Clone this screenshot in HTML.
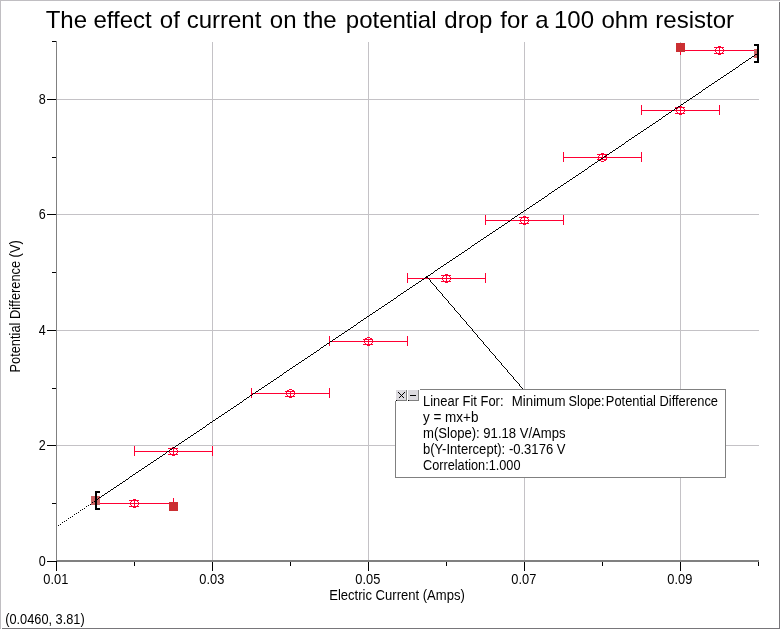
<!DOCTYPE html>
<html lang="en"><head><meta charset="utf-8"><title>The effect of current on the potential drop for a 100 ohm resistor</title>
<style>html,body{margin:0;padding:0;background:#fff;overflow:hidden}svg{display:block;will-change:transform}text{font-family:"Liberation Sans",sans-serif;fill:#000}.s{font-size:13.8px}.t{font-size:24px}</style></head><body>
<svg width="780" height="629" viewBox="0 0 780 629">
<rect x="0" y="0" width="780" height="629" fill="#ffffff"/>
<g shape-rendering="crispEdges">
<rect x="0" y="0" width="780" height="1" fill="#c0bec2"/>
<rect x="0" y="0" width="1" height="629" fill="#c0bec2"/>
<rect x="779" y="2" width="1" height="627" fill="#78767a"/>
<rect x="2" y="628" width="778" height="1" fill="#78767a"/>
<rect x="212" y="42" width="1" height="518" fill="#c4c2c6"/>
<rect x="368" y="42" width="1" height="518" fill="#c4c2c6"/>
<rect x="524" y="42" width="1" height="518" fill="#c4c2c6"/>
<rect x="680" y="42" width="1" height="518" fill="#c4c2c6"/>
<rect x="57" y="445" width="702" height="1" fill="#c4c2c6"/>
<rect x="57" y="330" width="702" height="1" fill="#c4c2c6"/>
<rect x="57" y="214" width="702" height="1" fill="#c4c2c6"/>
<rect x="57" y="99" width="702" height="1" fill="#c4c2c6"/>
<rect x="56" y="41" width="1" height="520" fill="#808080"/>
<rect x="56" y="560" width="703" height="2" fill="#808080"/>
<rect x="47" y="561" width="9" height="1" fill="#000"/>
<rect x="52" y="503" width="4" height="1" fill="#000"/>
<rect x="47" y="445" width="9" height="1" fill="#000"/>
<rect x="52" y="388" width="4" height="1" fill="#000"/>
<rect x="47" y="330" width="9" height="1" fill="#000"/>
<rect x="52" y="272" width="4" height="1" fill="#000"/>
<rect x="47" y="214" width="9" height="1" fill="#000"/>
<rect x="52" y="157" width="4" height="1" fill="#000"/>
<rect x="47" y="99" width="9" height="1" fill="#000"/>
<rect x="52" y="41" width="4" height="1" fill="#000"/>
<rect x="56" y="562" width="1" height="9" fill="#000"/>
<rect x="134" y="562" width="1" height="4" fill="#000"/>
<rect x="212" y="562" width="1" height="9" fill="#000"/>
<rect x="290" y="562" width="1" height="4" fill="#000"/>
<rect x="368" y="562" width="1" height="9" fill="#000"/>
<rect x="446" y="562" width="1" height="4" fill="#000"/>
<rect x="524" y="562" width="1" height="9" fill="#000"/>
<rect x="602" y="562" width="1" height="4" fill="#000"/>
<rect x="680" y="562" width="1" height="9" fill="#000"/>
<rect x="758" y="562" width="1" height="4" fill="#000"/>
<rect x="56" y="561" width="1" height="1" fill="#000"/>
</g>
<text class="t" y="28"><tspan x="45.65">The</tspan> <tspan x="93.45">effect</tspan> <tspan x="159.85">of</tspan> <tspan x="186.65">current</tspan> <tspan x="269.85">on</tspan> <tspan x="303.35">the</tspan> <tspan x="345.80">potential</tspan> <tspan x="444.30">drop</tspan> <tspan x="500.35">for</tspan> <tspan x="535.15">a</tspan> <tspan x="554.00">100</tspan> <tspan x="601.50">ohm</tspan> <tspan x="655.30">resistor</tspan></text>
<text class="s" x="45.7" y="566" text-anchor="end" textLength="7" lengthAdjust="spacingAndGlyphs">0</text>
<text class="s" x="45.7" y="450" text-anchor="end" textLength="7" lengthAdjust="spacingAndGlyphs">2</text>
<text class="s" x="45.7" y="335" text-anchor="end" textLength="7" lengthAdjust="spacingAndGlyphs">4</text>
<text class="s" x="45.7" y="219" text-anchor="end" textLength="7" lengthAdjust="spacingAndGlyphs">6</text>
<text class="s" x="45.7" y="104" text-anchor="end" textLength="7" lengthAdjust="spacingAndGlyphs">8</text>
<text class="s" x="55.8" y="584" text-anchor="middle" textLength="25" lengthAdjust="spacingAndGlyphs">0.01</text>
<text class="s" x="211.8" y="584" text-anchor="middle" textLength="25" lengthAdjust="spacingAndGlyphs">0.03</text>
<text class="s" x="367.8" y="584" text-anchor="middle" textLength="25" lengthAdjust="spacingAndGlyphs">0.05</text>
<text class="s" x="523.8" y="584" text-anchor="middle" textLength="25" lengthAdjust="spacingAndGlyphs">0.07</text>
<text class="s" x="679.8" y="584" text-anchor="middle" textLength="25" lengthAdjust="spacingAndGlyphs">0.09</text>
<text class="s" x="397" y="600" text-anchor="middle" textLength="135.5" lengthAdjust="spacingAndGlyphs">Electric Current (Amps)</text>
<text class="s" transform="translate(19.8,306.4) rotate(-90)" text-anchor="middle" textLength="132.2" lengthAdjust="spacingAndGlyphs">Potential Difference (V)</text>
<text class="s" x="5.2" y="624" textLength="79.5" lengthAdjust="spacingAndGlyphs">(0.0460, 3.81)</text>
<g shape-rendering="crispEdges" fill="#ff0033">
<rect x="95" y="503" width="79" height="1" fill="#ff0033"/>
<rect x="95" y="498" width="1" height="10" fill="#ff0033"/>
<rect x="173" y="498" width="1" height="10" fill="#ff0033"/>
<rect x="134" y="500" width="1" height="7" fill="#ff0033"/>
<rect x="129" y="500" width="10" height="1" fill="#ff0033"/>
<rect x="129" y="506" width="10" height="1" fill="#ff0033"/>
<rect x="134" y="451" width="79" height="1" fill="#ff0033"/>
<rect x="134" y="446" width="1" height="10" fill="#ff0033"/>
<rect x="212" y="446" width="1" height="10" fill="#ff0033"/>
<rect x="173" y="448" width="1" height="7" fill="#ff0033"/>
<rect x="168" y="448" width="10" height="1" fill="#ff0033"/>
<rect x="168" y="454" width="10" height="1" fill="#ff0033"/>
<rect x="251" y="393" width="79" height="1" fill="#ff0033"/>
<rect x="251" y="388" width="1" height="10" fill="#ff0033"/>
<rect x="329" y="388" width="1" height="10" fill="#ff0033"/>
<rect x="290" y="391" width="1" height="6" fill="#ff0033"/>
<rect x="285" y="391" width="10" height="1" fill="#ff0033"/>
<rect x="285" y="396" width="10" height="1" fill="#ff0033"/>
<rect x="329" y="341" width="79" height="1" fill="#ff0033"/>
<rect x="329" y="336" width="1" height="10" fill="#ff0033"/>
<rect x="407" y="336" width="1" height="10" fill="#ff0033"/>
<rect x="368" y="339" width="1" height="6" fill="#ff0033"/>
<rect x="363" y="339" width="10" height="1" fill="#ff0033"/>
<rect x="363" y="344" width="10" height="1" fill="#ff0033"/>
<rect x="407" y="278" width="79" height="1" fill="#ff0033"/>
<rect x="407" y="273" width="1" height="10" fill="#ff0033"/>
<rect x="485" y="273" width="1" height="10" fill="#ff0033"/>
<rect x="446" y="275" width="1" height="7" fill="#ff0033"/>
<rect x="441" y="275" width="10" height="1" fill="#ff0033"/>
<rect x="441" y="281" width="10" height="1" fill="#ff0033"/>
<rect x="485" y="220" width="79" height="1" fill="#ff0033"/>
<rect x="485" y="215" width="1" height="10" fill="#ff0033"/>
<rect x="563" y="215" width="1" height="10" fill="#ff0033"/>
<rect x="524" y="217" width="1" height="7" fill="#ff0033"/>
<rect x="519" y="217" width="10" height="1" fill="#ff0033"/>
<rect x="519" y="223" width="10" height="1" fill="#ff0033"/>
<rect x="563" y="157" width="79" height="1" fill="#ff0033"/>
<rect x="563" y="152" width="1" height="10" fill="#ff0033"/>
<rect x="641" y="152" width="1" height="10" fill="#ff0033"/>
<rect x="602" y="154" width="1" height="6" fill="#ff0033"/>
<rect x="597" y="154" width="10" height="1" fill="#ff0033"/>
<rect x="597" y="159" width="10" height="1" fill="#ff0033"/>
<rect x="641" y="110" width="79" height="1" fill="#ff0033"/>
<rect x="641" y="105" width="1" height="10" fill="#ff0033"/>
<rect x="719" y="105" width="1" height="10" fill="#ff0033"/>
<rect x="680" y="107" width="1" height="7" fill="#ff0033"/>
<rect x="675" y="107" width="10" height="1" fill="#ff0033"/>
<rect x="675" y="113" width="10" height="1" fill="#ff0033"/>
<rect x="680" y="50" width="79" height="1" fill="#ff0033"/>
<rect x="680" y="45" width="1" height="10" fill="#ff0033"/>
<rect x="719" y="47" width="1" height="7" fill="#ff0033"/>
<rect x="714" y="47" width="10" height="1" fill="#ff0033"/>
<rect x="714" y="53" width="10" height="1" fill="#ff0033"/>
</g>
<defs><g id="mk" fill="#ff0033" shape-rendering="crispEdges"><rect x="-1" y="-4" width="3" height="1"/><rect x="-1" y="4" width="3" height="1"/><rect x="-3" y="-3" width="2" height="1"/><rect x="2" y="-3" width="2" height="1"/><rect x="-3" y="3" width="2" height="1"/><rect x="2" y="3" width="2" height="1"/><rect x="-3" y="-2" width="1" height="1"/><rect x="3" y="-2" width="1" height="1"/><rect x="-3" y="2" width="1" height="1"/><rect x="3" y="2" width="1" height="1"/><rect x="-4" y="-1" width="1" height="3"/><rect x="4" y="-1" width="1" height="3"/></g></defs>
<use href="#mk" x="134" y="503"/>
<use href="#mk" x="173" y="451"/>
<use href="#mk" x="290" y="393"/>
<use href="#mk" x="368" y="341"/>
<use href="#mk" x="446" y="278"/>
<use href="#mk" x="524" y="220"/>
<use href="#mk" x="602" y="157"/>
<use href="#mk" x="680" y="110"/>
<use href="#mk" x="719" y="50"/>
<g shape-rendering="crispEdges">
<rect x="91" y="496" width="9" height="9" fill="#cd6464"/>
<rect x="754" y="49" width="5" height="9" fill="#cd6464"/>
<rect x="169" y="502" width="9" height="9" fill="#cb2f32"/>
<rect x="676" y="43" width="9" height="9" fill="#cb2f32"/>
</g>
<g shape-rendering="crispEdges" fill="#000">
<path d="M95 500h1v1h-1zM96 499h2v1h-2zM98 498h1v1h-1zM99 497h2v1h-2zM101 496h1v1h-1zM102 495h2v1h-2zM104 494h1v1h-1zM105 493h2v1h-2zM107 492h1v1h-1zM108 491h2v1h-2zM110 490h1v1h-1zM111 489h2v1h-2zM113 488h1v1h-1zM114 487h2v1h-2zM116 486h1v1h-1zM117 485h2v1h-2zM119 484h1v1h-1zM120 483h2v1h-2zM122 482h1v1h-1zM123 481h2v1h-2zM125 480h1v1h-1zM126 479h2v1h-2zM128 478h1v1h-1zM129 477h1v1h-1zM130 476h2v1h-2zM132 475h1v1h-1zM133 474h2v1h-2zM135 473h1v1h-1zM136 472h2v1h-2zM138 471h1v1h-1zM139 470h2v1h-2zM141 469h1v1h-1zM142 468h2v1h-2zM144 467h1v1h-1zM145 466h2v1h-2zM147 465h1v1h-1zM148 464h2v1h-2zM150 463h1v1h-1zM151 462h2v1h-2zM153 461h1v1h-1zM154 460h2v1h-2zM156 459h1v1h-1zM157 458h2v1h-2zM159 457h1v1h-1zM160 456h2v1h-2zM162 455h1v1h-1zM163 454h2v1h-2zM165 453h1v1h-1zM166 452h1v1h-1zM167 451h2v1h-2zM169 450h1v1h-1zM170 449h2v1h-2zM172 448h1v1h-1zM173 447h2v1h-2zM175 446h1v1h-1zM176 445h2v1h-2zM178 444h1v1h-1zM179 443h2v1h-2zM181 442h1v1h-1zM182 441h2v1h-2zM184 440h1v1h-1zM185 439h2v1h-2zM187 438h1v1h-1zM188 437h2v1h-2zM190 436h1v1h-1zM191 435h2v1h-2zM193 434h1v1h-1zM194 433h2v1h-2zM196 432h1v1h-1zM197 431h2v1h-2zM199 430h1v1h-1zM200 429h2v1h-2zM202 428h1v1h-1zM203 427h2v1h-2zM205 426h1v1h-1zM206 425h1v1h-1zM207 424h2v1h-2zM209 423h1v1h-1zM210 422h2v1h-2zM212 421h1v1h-1zM213 420h2v1h-2zM215 419h1v1h-1zM216 418h2v1h-2zM218 417h1v1h-1zM219 416h2v1h-2zM221 415h1v1h-1zM222 414h2v1h-2zM224 413h1v1h-1zM225 412h2v1h-2zM227 411h1v1h-1zM228 410h2v1h-2zM230 409h1v1h-1zM231 408h2v1h-2zM233 407h1v1h-1zM234 406h2v1h-2zM236 405h1v1h-1zM237 404h2v1h-2zM239 403h1v1h-1zM240 402h2v1h-2zM242 401h1v1h-1zM243 400h1v1h-1zM244 399h2v1h-2zM246 398h1v1h-1zM247 397h2v1h-2zM249 396h1v1h-1zM250 395h2v1h-2zM252 394h1v1h-1zM253 393h2v1h-2zM255 392h1v1h-1zM256 391h2v1h-2zM258 390h1v1h-1zM259 389h2v1h-2zM261 388h1v1h-1zM262 387h2v1h-2zM264 386h1v1h-1zM265 385h2v1h-2zM267 384h1v1h-1zM268 383h2v1h-2zM270 382h1v1h-1zM271 381h2v1h-2zM273 380h1v1h-1zM274 379h2v1h-2zM276 378h1v1h-1zM277 377h2v1h-2zM279 376h1v1h-1zM280 375h2v1h-2zM282 374h1v1h-1zM283 373h1v1h-1zM284 372h2v1h-2zM286 371h1v1h-1zM287 370h2v1h-2zM289 369h1v1h-1zM290 368h2v1h-2zM292 367h1v1h-1zM293 366h2v1h-2zM295 365h1v1h-1zM296 364h2v1h-2zM298 363h1v1h-1zM299 362h2v1h-2zM301 361h1v1h-1zM302 360h2v1h-2zM304 359h1v1h-1zM305 358h2v1h-2zM307 357h1v1h-1zM308 356h2v1h-2zM310 355h1v1h-1zM311 354h2v1h-2zM313 353h1v1h-1zM314 352h2v1h-2zM316 351h1v1h-1zM317 350h2v1h-2zM319 349h1v1h-1zM320 348h1v1h-1zM321 347h2v1h-2zM323 346h1v1h-1zM324 345h2v1h-2zM326 344h1v1h-1zM327 343h2v1h-2zM329 342h1v1h-1zM330 341h2v1h-2zM332 340h1v1h-1zM333 339h2v1h-2zM335 338h1v1h-1zM336 337h2v1h-2zM338 336h1v1h-1zM339 335h2v1h-2zM341 334h1v1h-1zM342 333h2v1h-2zM344 332h1v1h-1zM345 331h2v1h-2zM347 330h1v1h-1zM348 329h2v1h-2zM350 328h1v1h-1zM351 327h2v1h-2zM353 326h1v1h-1zM354 325h2v1h-2zM356 324h1v1h-1zM357 323h1v1h-1zM358 322h2v1h-2zM360 321h1v1h-1zM361 320h2v1h-2zM363 319h1v1h-1zM364 318h2v1h-2zM366 317h1v1h-1zM367 316h2v1h-2zM369 315h1v1h-1zM370 314h2v1h-2zM372 313h1v1h-1zM373 312h2v1h-2zM375 311h1v1h-1zM376 310h2v1h-2zM378 309h1v1h-1zM379 308h2v1h-2zM381 307h1v1h-1zM382 306h2v1h-2zM384 305h1v1h-1zM385 304h2v1h-2zM387 303h1v1h-1zM388 302h2v1h-2zM390 301h1v1h-1zM391 300h2v1h-2zM393 299h1v1h-1zM394 298h2v1h-2zM396 297h1v1h-1zM397 296h1v1h-1zM398 295h2v1h-2zM400 294h1v1h-1zM401 293h2v1h-2zM403 292h1v1h-1zM404 291h2v1h-2zM406 290h1v1h-1zM407 289h2v1h-2zM409 288h1v1h-1zM410 287h2v1h-2zM412 286h1v1h-1zM413 285h2v1h-2zM415 284h1v1h-1zM416 283h2v1h-2zM418 282h1v1h-1zM419 281h2v1h-2zM421 280h1v1h-1zM422 279h2v1h-2zM424 278h1v1h-1zM425 277h2v1h-2zM427 276h1v1h-1zM428 275h2v1h-2zM430 274h1v1h-1zM431 273h2v1h-2zM433 272h1v1h-1zM434 271h1v1h-1zM435 270h2v1h-2zM437 269h1v1h-1zM438 268h2v1h-2zM440 267h1v1h-1zM441 266h2v1h-2zM443 265h1v1h-1zM444 264h2v1h-2zM446 263h1v1h-1zM447 262h2v1h-2zM449 261h1v1h-1zM450 260h2v1h-2zM452 259h1v1h-1zM453 258h2v1h-2zM455 257h1v1h-1zM456 256h2v1h-2zM458 255h1v1h-1zM459 254h2v1h-2zM461 253h1v1h-1zM462 252h2v1h-2zM464 251h1v1h-1zM465 250h2v1h-2zM467 249h1v1h-1zM468 248h2v1h-2zM470 247h1v1h-1zM471 246h1v1h-1zM472 245h2v1h-2zM474 244h1v1h-1zM475 243h2v1h-2zM477 242h1v1h-1zM478 241h2v1h-2zM480 240h1v1h-1zM481 239h2v1h-2zM483 238h1v1h-1zM484 237h2v1h-2zM486 236h1v1h-1zM487 235h2v1h-2zM489 234h1v1h-1zM490 233h2v1h-2zM492 232h1v1h-1zM493 231h2v1h-2zM495 230h1v1h-1zM496 229h2v1h-2zM498 228h1v1h-1zM499 227h2v1h-2zM501 226h1v1h-1zM502 225h2v1h-2zM504 224h1v1h-1zM505 223h2v1h-2zM507 222h1v1h-1zM508 221h2v1h-2zM510 220h1v1h-1zM511 219h1v1h-1zM512 218h2v1h-2zM514 217h1v1h-1zM515 216h2v1h-2zM517 215h1v1h-1zM518 214h2v1h-2zM520 213h1v1h-1zM521 212h2v1h-2zM523 211h1v1h-1zM524 210h2v1h-2zM526 209h1v1h-1zM527 208h2v1h-2zM529 207h1v1h-1zM530 206h2v1h-2zM532 205h1v1h-1zM533 204h2v1h-2zM535 203h1v1h-1zM536 202h2v1h-2zM538 201h1v1h-1zM539 200h2v1h-2zM541 199h1v1h-1zM542 198h2v1h-2zM544 197h1v1h-1zM545 196h2v1h-2zM547 195h1v1h-1zM548 194h1v1h-1zM549 193h2v1h-2zM551 192h1v1h-1zM552 191h2v1h-2zM554 190h1v1h-1zM555 189h2v1h-2zM557 188h1v1h-1zM558 187h2v1h-2zM560 186h1v1h-1zM561 185h2v1h-2zM563 184h1v1h-1zM564 183h2v1h-2zM566 182h1v1h-1zM567 181h2v1h-2zM569 180h1v1h-1zM570 179h2v1h-2zM572 178h1v1h-1zM573 177h2v1h-2zM575 176h1v1h-1zM576 175h2v1h-2zM578 174h1v1h-1zM579 173h2v1h-2zM581 172h1v1h-1zM582 171h2v1h-2zM584 170h1v1h-1zM585 169h2v1h-2zM587 168h1v1h-1zM588 167h1v1h-1zM589 166h2v1h-2zM591 165h1v1h-1zM592 164h2v1h-2zM594 163h1v1h-1zM595 162h2v1h-2zM597 161h1v1h-1zM598 160h2v1h-2zM600 159h1v1h-1zM601 158h2v1h-2zM603 157h1v1h-1zM604 156h2v1h-2zM606 155h1v1h-1zM607 154h2v1h-2zM609 153h1v1h-1zM610 152h2v1h-2zM612 151h1v1h-1zM613 150h2v1h-2zM615 149h1v1h-1zM616 148h2v1h-2zM618 147h1v1h-1zM619 146h2v1h-2zM621 145h1v1h-1zM622 144h2v1h-2zM624 143h1v1h-1zM625 142h1v1h-1zM626 141h2v1h-2zM628 140h1v1h-1zM629 139h2v1h-2zM631 138h1v1h-1zM632 137h2v1h-2zM634 136h1v1h-1zM635 135h2v1h-2zM637 134h1v1h-1zM638 133h2v1h-2zM640 132h1v1h-1zM641 131h2v1h-2zM643 130h1v1h-1zM644 129h2v1h-2zM646 128h1v1h-1zM647 127h2v1h-2zM649 126h1v1h-1zM650 125h2v1h-2zM652 124h1v1h-1zM653 123h2v1h-2zM655 122h1v1h-1zM656 121h2v1h-2zM658 120h1v1h-1zM659 119h2v1h-2zM661 118h1v1h-1zM662 117h1v1h-1zM663 116h2v1h-2zM665 115h1v1h-1zM666 114h2v1h-2zM668 113h1v1h-1zM669 112h2v1h-2zM671 111h1v1h-1zM672 110h2v1h-2zM674 109h1v1h-1zM675 108h2v1h-2zM677 107h1v1h-1zM678 106h2v1h-2zM680 105h1v1h-1zM681 104h2v1h-2zM683 103h1v1h-1zM684 102h2v1h-2zM686 101h1v1h-1zM687 100h2v1h-2zM689 99h1v1h-1zM690 98h2v1h-2zM692 97h1v1h-1zM693 96h2v1h-2zM695 95h1v1h-1zM696 94h2v1h-2zM698 93h1v1h-1zM699 92h2v1h-2zM701 91h1v1h-1zM702 90h1v1h-1zM703 89h2v1h-2zM705 88h1v1h-1zM706 87h2v1h-2zM708 86h1v1h-1zM709 85h2v1h-2zM711 84h1v1h-1zM712 83h2v1h-2zM714 82h1v1h-1zM715 81h2v1h-2zM717 80h1v1h-1zM718 79h2v1h-2zM720 78h1v1h-1zM721 77h2v1h-2zM723 76h1v1h-1zM724 75h2v1h-2zM726 74h1v1h-1zM727 73h2v1h-2zM729 72h1v1h-1zM730 71h2v1h-2zM732 70h1v1h-1zM733 69h2v1h-2zM735 68h1v1h-1zM736 67h2v1h-2zM738 66h1v1h-1zM739 65h1v1h-1zM740 64h2v1h-2zM742 63h1v1h-1zM743 62h2v1h-2zM745 61h1v1h-1zM746 60h2v1h-2zM748 59h1v1h-1zM749 58h2v1h-2zM751 57h1v1h-1zM752 56h2v1h-2zM754 55h1v1h-1zM755 54h2v1h-2zM757 53h1v1h-1z"/>
<path d="M58 525h1v1h-1zM60 524h1v1h-1zM62 522h1v1h-1zM64 521h1v1h-1zM66 520h1v1h-1zM68 518h1v1h-1zM70 517h1v1h-1zM72 516h1v1h-1zM74 514h1v1h-1zM76 513h1v1h-1zM78 512h1v1h-1zM80 510h1v1h-1zM82 509h1v1h-1zM84 508h1v1h-1zM86 506h1v1h-1zM88 505h1v1h-1zM90 504h1v1h-1zM92 502h1v1h-1zM94 501h1v1h-1z"/>
<path d="M427 277v1h1v-1zM428 278v1h1v-1zM429 279v1h1v-1zM430 280v2h1v-2zM431 282v1h1v-1zM432 283v1h1v-1zM433 284v1h1v-1zM434 285v1h1v-1zM435 286v1h1v-1zM436 287v2h1v-2zM437 289v1h1v-1zM438 290v1h1v-1zM439 291v1h1v-1zM440 292v1h1v-1zM441 293v1h1v-1zM442 294v2h1v-2zM443 296v1h1v-1zM444 297v1h1v-1zM445 298v1h1v-1zM446 299v1h1v-1zM447 300v1h1v-1zM448 301v2h1v-2zM449 303v1h1v-1zM450 304v1h1v-1zM451 305v1h1v-1zM452 306v1h1v-1zM453 307v1h1v-1zM454 308v2h1v-2zM455 310v1h1v-1zM456 311v1h1v-1zM457 312v1h1v-1zM458 313v1h1v-1zM459 314v1h1v-1zM460 315v2h1v-2zM461 317v1h1v-1zM462 318v1h1v-1zM463 319v1h1v-1zM464 320v1h1v-1zM465 321v1h1v-1zM466 322v2h1v-2zM467 324v1h1v-1zM468 325v1h1v-1zM469 326v1h1v-1zM470 327v1h1v-1zM471 328v1h1v-1zM472 329v2h1v-2zM473 331v1h1v-1zM474 332v1h1v-1zM475 333v1h1v-1zM476 334v1h1v-1zM477 335v2h1v-2zM478 337v1h1v-1zM479 338v1h1v-1zM480 339v1h1v-1zM481 340v1h1v-1zM482 341v1h1v-1zM483 342v2h1v-2zM484 344v1h1v-1zM485 345v1h1v-1zM486 346v1h1v-1zM487 347v1h1v-1zM488 348v1h1v-1zM489 349v2h1v-2zM490 351v1h1v-1zM491 352v1h1v-1zM492 353v1h1v-1zM493 354v1h1v-1zM494 355v1h1v-1zM495 356v2h1v-2zM496 358v1h1v-1zM497 359v1h1v-1zM498 360v1h1v-1zM499 361v1h1v-1zM500 362v1h1v-1zM501 363v2h1v-2zM502 365v1h1v-1zM503 366v1h1v-1zM504 367v1h1v-1zM505 368v1h1v-1zM506 369v1h1v-1zM507 370v2h1v-2zM508 372v1h1v-1zM509 373v1h1v-1zM510 374v1h1v-1zM511 375v1h1v-1zM512 376v1h1v-1zM513 377v2h1v-2zM514 379v1h1v-1zM515 380v1h1v-1zM516 381v1h1v-1zM517 382v1h1v-1zM518 383v1h1v-1zM519 384v2h1v-2zM520 386v1h1v-1zM521 387v1h1v-1zM522 388v1h1v-1z"/>
<rect x="426" y="276" width="2" height="2" fill="#000"/>
</g>
<g shape-rendering="crispEdges" fill="#000">
<rect x="95" y="491" width="2" height="19" fill="#000"/>
<rect x="95" y="491" width="5" height="2" fill="#000"/>
<rect x="95" y="508" width="5" height="2" fill="#000"/>
<rect x="757" y="44" width="2" height="19" fill="#000"/>
<rect x="754" y="44" width="5" height="2" fill="#000"/>
<rect x="754" y="61" width="5" height="2" fill="#000"/>
</g>
<g shape-rendering="crispEdges">
<rect x="395" y="389" width="331" height="89" fill="#808080"/>
<rect x="396" y="390" width="329" height="87" fill="#ffffff"/>
<rect x="395" y="389" width="25" height="12" fill="#ffffff"/>
<rect x="396" y="390" width="11" height="11" fill="#808080"/>
<rect x="396" y="390" width="10" height="10" fill="#dcdadf"/>
<rect x="408" y="390" width="11" height="11" fill="#808080"/>
<rect x="408" y="390" width="10" height="10" fill="#dcdadf"/>
<rect x="410" y="395" width="6" height="1" fill="#000"/>
<rect x="396" y="400" width="1" height="1" fill="#000"/>
<rect x="408" y="400" width="1" height="1" fill="#000"/>
<rect x="398" y="392" width="1" height="1" fill="#000"/>
<rect x="404" y="392" width="1" height="1" fill="#000"/>
<rect x="399" y="393" width="1" height="1" fill="#000"/>
<rect x="403" y="393" width="1" height="1" fill="#000"/>
<rect x="400" y="394" width="1" height="1" fill="#000"/>
<rect x="402" y="394" width="1" height="1" fill="#000"/>
<rect x="401" y="395" width="1" height="1" fill="#000"/>
<rect x="401" y="395" width="1" height="1" fill="#000"/>
<rect x="402" y="396" width="1" height="1" fill="#000"/>
<rect x="400" y="396" width="1" height="1" fill="#000"/>
<rect x="403" y="397" width="1" height="1" fill="#000"/>
<rect x="399" y="397" width="1" height="1" fill="#000"/>
</g>
<text class="s" y="405.7" xml:space="preserve"><tspan x="423" textLength="80.5" lengthAdjust="spacingAndGlyphs">Linear Fit For:</tspan>  <tspan x="511.8" textLength="53.7" lengthAdjust="spacingAndGlyphs">Minimum</tspan> <tspan x="568.6" textLength="36" lengthAdjust="spacingAndGlyphs">Slope:</tspan><tspan x="605.8" textLength="112.2" lengthAdjust="spacingAndGlyphs">Potential Difference</tspan></text>
<text class="s" x="423" y="421.7" xml:space="preserve" textLength="55.5" lengthAdjust="spacingAndGlyphs">y = mx+b</text>
<text class="s" x="423" y="437.7" xml:space="preserve" textLength="142.5" lengthAdjust="spacingAndGlyphs">m(Slope): 91.18 V/Amps</text>
<text class="s" x="423" y="453.7" xml:space="preserve" textLength="142.5" lengthAdjust="spacingAndGlyphs">b(Y-Intercept): -0.3176 V</text>
<text class="s" x="423" y="469.7" xml:space="preserve" textLength="97.5" lengthAdjust="spacingAndGlyphs">Correlation:1.000</text>
</svg></body></html>
